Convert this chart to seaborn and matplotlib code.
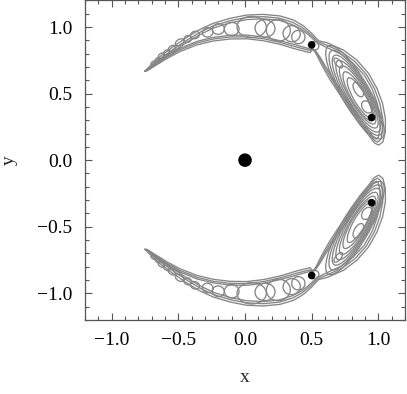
import numpy as np
import pandas as pd
import matplotlib
matplotlib.use("Agg")
import matplotlib.pyplot as plt
import seaborn as sns
from matplotlib.patches import Ellipse
from matplotlib.ticker import MultipleLocator

# --- traced orbit envelopes (upper half; the lower half is its mirror image) ---
# outer line of the band: crescent top edge -> lobe right edge -> lobe left edge -> crescent bottom edge
env1_x = [-0.752, -0.714, -0.639, -0.539, -0.438, -0.338, -0.238, -0.113, 0.013, 0.138, 0.263,
          0.363, 0.439, 0.501, 0.551, 0.614, 0.739, 0.839, 0.927, 0.990, 1.032, 1.053, 1.053,
          1.035, 1.003, 0.970, 0.927, 0.865, 0.789, 0.714, 0.639, 0.576, 0.539, 0.509,
          0.489, 0.389, 0.263, 0.138, 0.013, -0.113, -0.238, -0.363, -0.489, -0.589, -0.677,
          -0.739, -0.752]
env1_y = [0.669, 0.707, 0.777, 0.852, 0.922, 0.982, 1.028, 1.065, 1.090, 1.095, 1.083,
          1.053, 1.008, 0.952, 0.897, 0.882, 0.827, 0.752, 0.652, 0.539, 0.426, 0.313, 0.213,
          0.138, 0.113, 0.130, 0.188, 0.263, 0.376, 0.489, 0.602, 0.714, 0.789, 0.840,
          0.807, 0.832, 0.870, 0.897, 0.912, 0.910, 0.895, 0.865, 0.815, 0.762, 0.707,
          0.669, 0.669]
# further passes of the trajectory, just inside the first
env2_x = [-0.735, -0.700, -0.630, -0.530, -0.430, -0.330, -0.235, -0.110, 0.013, 0.138, 0.260,
          0.355, 0.430, 0.490, 0.545, 0.610, 0.730, 0.825, 0.910, 0.972, 1.012, 1.033, 1.033,
          1.018, 0.995, 0.968, 0.930, 0.872, 0.800, 0.726, 0.652, 0.590, 0.553, 0.520,
          0.480, 0.385, 0.260, 0.138, 0.013, -0.113, -0.238, -0.360, -0.485, -0.585, -0.670,
          -0.725, -0.735]
env2_y = [0.675, 0.705, 0.765, 0.838, 0.905, 0.965, 1.010, 1.048, 1.072, 1.078, 1.066,
          1.036, 0.995, 0.945, 0.890, 0.865, 0.810, 0.740, 0.645, 0.535, 0.425, 0.315, 0.220,
          0.155, 0.135, 0.150, 0.200, 0.275, 0.385, 0.495, 0.605, 0.710, 0.780, 0.830,
          0.825, 0.850, 0.885, 0.912, 0.927, 0.925, 0.910, 0.880, 0.830, 0.775, 0.718,
          0.683, 0.675]
env3_x = [-0.720, -0.690, -0.625, -0.525, -0.425, -0.325, -0.230, -0.110, 0.013, 0.138, 0.258,
          0.350, 0.425, 0.482, 0.540, 0.605, 0.722, 0.812, 0.895, 0.955, 0.993, 1.013, 1.013,
          1.000, 0.985, 0.965, 0.935, 0.880, 0.810, 0.738, 0.665, 0.603, 0.565, 0.530,
          0.470, 0.380, 0.258, 0.138, 0.013, -0.113, -0.238, -0.358, -0.480, -0.580, -0.662,
          -0.712, -0.720]
env3_y = [0.680, 0.705, 0.757, 0.826, 0.892, 0.950, 0.995, 1.032, 1.056, 1.062, 1.050,
          1.020, 0.982, 0.937, 0.882, 0.850, 0.795, 0.727, 0.638, 0.532, 0.425, 0.318, 0.228,
          0.172, 0.158, 0.170, 0.214, 0.288, 0.393, 0.500, 0.607, 0.706, 0.770, 0.820,
          0.840, 0.866, 0.898, 0.925, 0.940, 0.938, 0.922, 0.893, 0.843, 0.787, 0.728,
          0.694, 0.680]

# epicycle loops along the crescent: centre, width, height, tilt (deg)
loop_x = [-0.69, -0.66, -0.63, -0.59, -0.55, -0.49, -0.43, -0.376, -0.28, -0.20, -0.10,
          0.05, 0.15, 0.25, 0.35, 0.40, 0.52]
loop_y = [0.730, 0.755, 0.785, 0.810, 0.840, 0.885, 0.910, 0.940, 0.960, 0.985, 0.985,
          1.000, 0.990, 0.975, 0.950, 0.925, 0.860]
loop_w = [0.04, 0.035, 0.05, 0.05, 0.06, 0.07, 0.06, 0.07, 0.08, 0.09, 0.11,
          0.22, 0.15, 0.18, 0.13, 0.10, 0.07]
loop_h = [0.02, 0.02, 0.03, 0.03, 0.035, 0.045, 0.05, 0.055, 0.07, 0.08, 0.10,
          0.16, 0.13, 0.16, 0.12, 0.10, 0.06]
loop_a = [40, 40, 38, 36, 35, 30, 27, 22, 18, 12, 5, 0, -5, -8, -15, -20, -30]

# nested loops inside the right-hand lobe
lobe_x = [0.825, 0.830, 0.835, 0.840, 0.845, 0.850, 0.860, 0.850, 0.915, 0.700]
lobe_y = [0.510, 0.505, 0.500, 0.495, 0.490, 0.480, 0.470, 0.530, 0.400, 0.730]
lobe_w = [0.80, 0.73, 0.66, 0.58, 0.50, 0.42, 0.34, 0.12, 0.10, 0.09]
lobe_h = [0.21, 0.19, 0.17, 0.15, 0.13, 0.11, 0.09, 0.06, 0.07, 0.04]
lobe_a = [-60, -60, -60, -60, -60, -60, -60, -60, -55, -50]

# bodies
big_x, big_y = [0.0], [0.0]
small_x = [0.50, 0.95, 0.95, 0.50]
small_y = [0.866, 0.32, -0.32, -0.866]

sns.set_style("ticks")
plt.rcParams["font.family"] = ["Liberation Serif", "DejaVu Serif"]

fig = plt.figure(figsize=(4.07, 3.94), dpi=100)
ax = fig.add_axes([0.209, 0.188, 0.786, 0.811])

rows = []
for name, xs, ys in [("e1", env1_x, env1_y), ("e2", env2_x, env2_y), ("e3", env3_x, env3_y)]:
    for sign, half in [(1, "up"), (-1, "down")]:
        for xv, yv in zip(xs, ys):
            rows.append({"curve": f"{name}_{half}", "x": xv, "y": sign * yv})
df = pd.DataFrame(rows)

gray = "#858585"
sns.lineplot(data=df, x="x", y="y", units="curve", estimator=None, sort=False,
             color=gray, lw=0.95, ax=ax, legend=False)

for cx, cy, w, h, a in list(zip(loop_x, loop_y, loop_w, loop_h, loop_a)) + \
        list(zip(lobe_x, lobe_y, lobe_w, lobe_h, lobe_a)):
    for sign in (1, -1):
        ax.add_patch(Ellipse((cx, sign * cy), w, h, angle=sign * a,
                             fill=False, ec=gray, lw=0.95))

sns.scatterplot(x=big_x, y=big_y, s=95, color="black", edgecolor="none", ax=ax, zorder=5)
sns.scatterplot(x=small_x, y=small_y, s=30, color="black", edgecolor="none", ax=ax, zorder=5)

ax.set_xlim(-1.2, 1.2)
ax.set_ylim(-1.2, 1.2)
ax.set_xticks([-1.0, -0.5, 0.0, 0.5, 1.0])
ax.set_yticks([-1.0, -0.5, 0.0, 0.5, 1.0])
ax.set_xticklabels(["\u22121.0", "\u22120.5", "0.0", "0.5", "1.0"])
ax.set_yticklabels(["\u22121.0", "\u22120.5", "0.0", "0.5", "1.0"])
ax.xaxis.set_minor_locator(MultipleLocator(0.1))
ax.yaxis.set_minor_locator(MultipleLocator(0.1))
ax.tick_params(which="both", direction="in", top=True, right=True, color="#555555",
               width=0.8, labelsize=14, labelcolor="black")
ax.tick_params(which="major", length=5, pad=9)
ax.tick_params(which="minor", length=3)
for sp in ax.spines.values():
    sp.set_color("#555555")
    sp.set_linewidth(0.9)
ax.set_xlabel("x", fontsize=14, labelpad=14)
ax.set_ylabel("y", fontsize=14, labelpad=14)

fig.savefig("out.png", dpi=100)
